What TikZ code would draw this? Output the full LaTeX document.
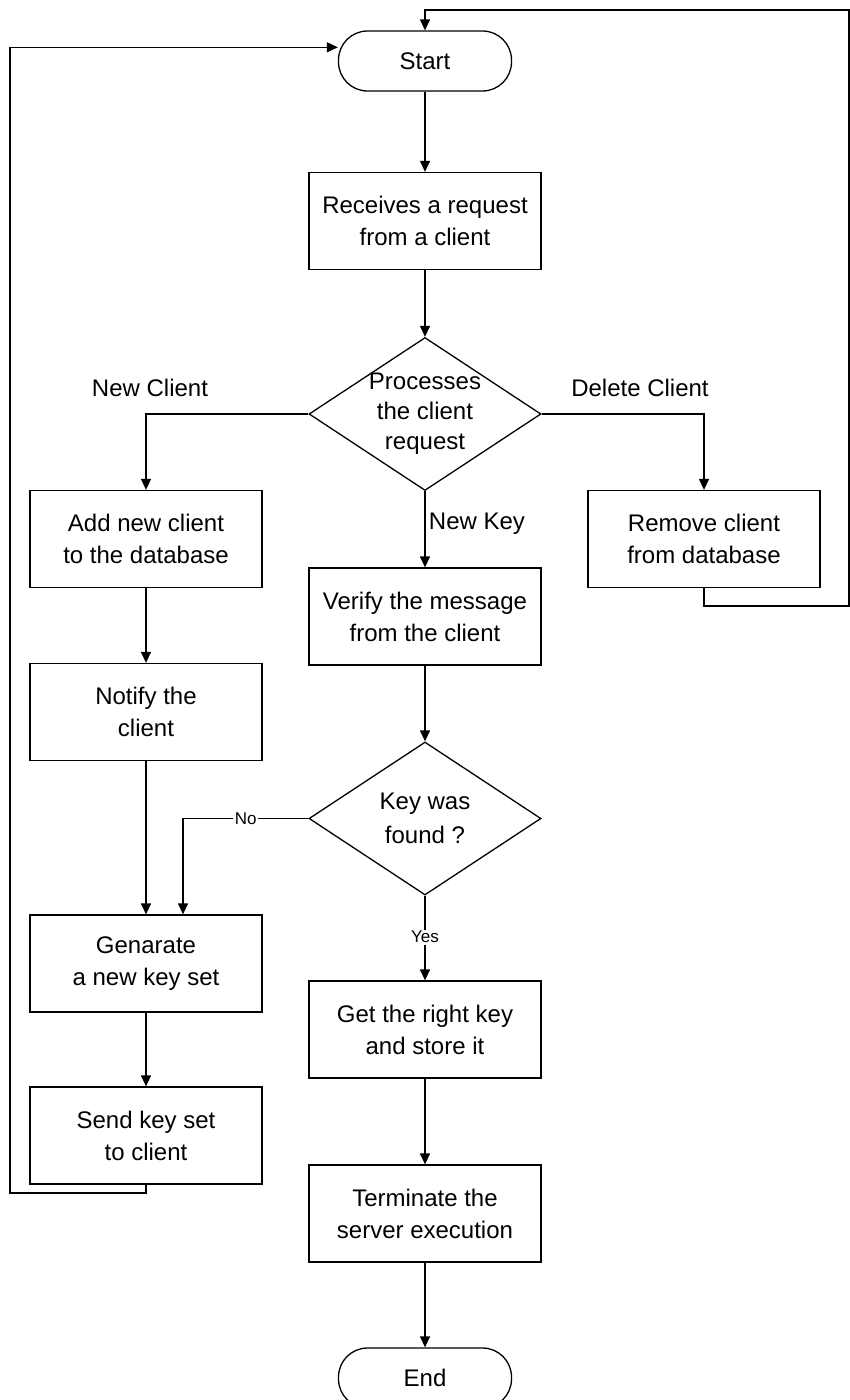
\documentclass[tikz,border=0pt]{standalone}
\usepackage{fontspec}
\setmainfont{Liberation Sans}
\usetikzlibrary{arrows.meta,shapes.geometric}
\begin{document}
\begin{tikzpicture}[x=1pt,y=-1pt,
  every node/.style={font=\fontsize{24}{32}\selectfont},
  box/.style={draw, line width=1.3pt, minimum width=232pt, minimum height=97pt,
    align=center, inner sep=0pt},
  term/.style={draw, line width=1.3pt, rounded corners=29pt, minimum width=173pt,
    minimum height=60pt, inner sep=0pt},
  dia/.style={draw, diamond, line width=1.3pt, minimum width=232pt,
    minimum height=153pt, inner sep=0pt},
  conn/.style={line width=1.3pt},
  arr/.style={conn, -{Triangle[length=11pt,width=10pt]}},
  lbl/.style={font=\fontsize{17}{20}\selectfont, fill=white, inner sep=1.5pt},
  branch/.style={font=\fontsize{24}{28}\selectfont}]
\useasboundingbox (0,0) rectangle (850,1400);

% process steps
\node[term] (start) at (425,61) {Start};
\node[box] (recv) at (425,221) {Receives a request\\from a client};
\node[dia, label={[align=center, font=\fontsize{24}{30}\selectfont]center:Processes\\the client\\request}] (proc) at (425,414) {};
\node[box] (add) at (146,539) {Add new client\\to the database};
\node[box] (remove) at (704,539) {Remove client\\from database};
\node[box] (verify) at (425,616.5) {Verify the message\\from the client};
\node[box] (notify) at (146,712) {Notify the\\client};
\node[dia, label={[align=center, font=\fontsize{24}{34}\selectfont]center:Key was\\found ?}] (found) at (425,818.5) {};
\node[box] (gen) at (146,963.5) {Genarate\\a new key set};
\node[box] (send) at (146,1135.5) {Send key set\\to client};
\node[box] (get) at (425,1029.5) {Get the right key\\and store it};
\node[box] (term) at (425,1213.5) {Terminate the\\server execution};
\node[term] (end) at (425,1378) {End};

% branch labels
\node[branch] (lnew) at (150,388) {New Client};
\node[branch] (ldel) at (640,388) {Delete Client};
\node[branch] (lkey) at (477,524) {New Key};

% loop-back corners
\coordinate (lb) at (10,1193);
\coordinate (rb) at (849,606);
\coordinate (rt) at (849,10);
\coordinate (nb) at (183,818.5);

% main flow
\draw[arr] (start) -- (recv);
\draw[arr] (recv) -- (proc.north);
\draw[arr] (proc.west) -| (add.north);
\draw[arr] (proc.east) -| (remove.north);
\draw[arr] (proc.south) -- (verify.north);
\draw[arr] (add) -- (notify);
\draw[arr] (notify) -- (gen);
\draw[arr] (gen) -- (send);
\draw[arr] (verify) -- (found.north);
\draw[arr] (found.west) -- node[lbl] (lno) {No} (nb) -- (nb |- gen.north);
\draw[arr] (found.south) -- node[lbl, pos=0.49] (lyes) {Yes} (get.north);
\draw[arr] (get) -- (term);
\draw[arr] (term) -- (end);

% returns to Start
\draw[arr] (send.south) |- (lb) |- ([yshift=13.7pt]start.west);
\draw[arr] (remove.south) |- (rb) -- (rt) -| (start.north);
\end{tikzpicture}
\end{document}
